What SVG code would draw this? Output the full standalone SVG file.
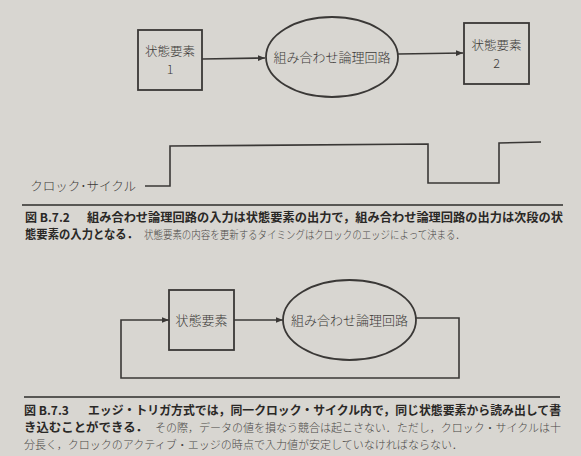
<svg xmlns="http://www.w3.org/2000/svg" width="581" height="456" viewBox="0 0 581 456">
<defs>
<style>
.bg{fill:#d8d6d1}
.ln{fill:none;stroke:#3a3836;stroke-width:1.6}
.nd{fill:none;stroke:#3a3836;stroke-width:1.8}
.lb{font-family:"Noto Sans CJK JP","Noto Sans",sans-serif;font-size:13px;font-weight:300;fill:#3c3a38;text-anchor:middle}
.sm{font-size:12.5px}
.cb{font-family:"Noto Sans CJK JP","Noto Sans",sans-serif;font-size:12px;font-weight:700;fill:#2a2826}
.cr{font-family:"Noto Sans CJK JP","Noto Sans",sans-serif;font-size:11px;font-weight:300;fill:#4a4846}
</style>
<marker id="ah" viewBox="0 0 10 10" refX="10" refY="5" markerWidth="7" markerHeight="7" markerUnits="userSpaceOnUse" orient="auto">
<path d="M0,1 L10,5 L0,9 z" fill="#3a3836"/>
</marker>
</defs>
<rect class="bg" x="0" y="0" width="581" height="456"/>

<g id="connectors">
<line class="ln" x1="202" y1="59" x2="265" y2="58" marker-end="url(#ah)"/>
<line class="ln" x1="398" y1="54" x2="463" y2="53" marker-end="url(#ah)"/>
<polyline class="ln" points="145,186 170,186 170,146 428,144 428,183 499,183 499,143 541,142"/>
<line class="ln" x1="234" y1="320" x2="283" y2="320" marker-end="url(#ah)"/>
<polyline class="ln" points="416,318 459,318 459,378 121,378 121,320 169,320" marker-end="url(#ah)"/>
</g>

<g id="state1">
<rect class="nd" x="138" y="30" width="64" height="60"/>
<text class="lb sm" x="170" y="56">状態要素</text>
<text class="lb sm" x="170" y="74">1</text>
</g>
<g id="comb1">
<ellipse class="nd" cx="332" cy="57" rx="66" ry="40"/>
<text class="lb" x="332" y="62">組み合わせ論理回路</text>
</g>
<g id="state2">
<rect class="nd" x="464" y="23" width="65" height="61"/>
<text class="lb sm" x="496.5" y="50">状態要素</text>
<text class="lb sm" x="496.5" y="68">2</text>
</g>
<g id="clock">
<text class="lb" x="136" y="191" style="text-anchor:end;font-size:12.5px">クロック･サイクル</text>
</g>

<line x1="22" y1="205" x2="563" y2="205" stroke="#2e2c2a" stroke-width="1.6"/>
<g id="caption1">
<text class="cb" x="25" y="222">図 B.7.2</text>
<text class="cb" x="87" y="222" textLength="476" lengthAdjust="spacingAndGlyphs">組み合わせ論理回路の入力は状態要素の出力で，組み合わせ論理回路の出力は次段の状</text>
<text class="cb" x="25" y="239" textLength="113" lengthAdjust="spacingAndGlyphs">態要素の入力となる．</text>
<text class="cr" x="144" y="239" textLength="321" lengthAdjust="spacingAndGlyphs">状態要素の内容を更新するタイミングはクロックのエッジによって決まる．</text>
</g>

<g id="state3">
<rect class="nd" x="169" y="290" width="65" height="60"/>
<text class="lb" x="201.5" y="325">状態要素</text>
</g>
<g id="comb2">
<ellipse class="nd" cx="349.5" cy="320" rx="66.5" ry="40"/>
<text class="lb" x="349.5" y="325">組み合わせ論理回路</text>
</g>

<line x1="24" y1="397" x2="560" y2="397" stroke="#2e2c2a" stroke-width="1.6"/>
<g id="caption2">
<text class="cb" x="24" y="415">図 B.7.3</text>
<text class="cb" x="88" y="415" textLength="473" lengthAdjust="spacingAndGlyphs">エッジ・トリガ方式では，同一クロック・サイクル内で，同じ状態要素から読み出して書</text>
<text class="cb" x="24" y="432" textLength="124" lengthAdjust="spacingAndGlyphs">き込むことができる．</text>
<text class="cr" x="155" y="432" textLength="406" lengthAdjust="spacingAndGlyphs">その際，データの値を損なう競合は起こさない．ただし，クロック・サイクルは十</text>
<text class="cr" x="24" y="449" textLength="439" lengthAdjust="spacingAndGlyphs">分長く，クロックのアクティブ・エッジの時点で入力値が安定していなければならない．</text>
</g>
</svg>
